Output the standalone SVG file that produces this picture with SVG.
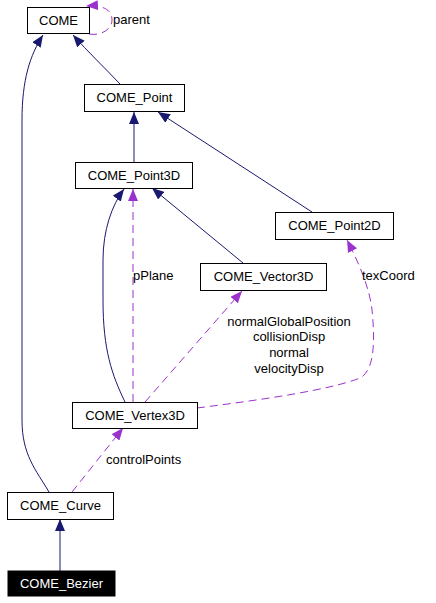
<svg xmlns="http://www.w3.org/2000/svg" width="436" height="603" viewBox="0 0 436 603">
<style>
.box{fill:#fff;stroke:#000;stroke-width:1}
.t{font-family:"Liberation Sans",Arial,sans-serif;font-size:13px;fill:#000;text-anchor:middle}
.l{font-family:"Liberation Sans",Arial,sans-serif;font-size:13px;fill:#000}
.inh{fill:none;stroke:#191970;stroke-width:1;marker-end:url(#an)}
.use{fill:none;stroke:#9a32cd;stroke-width:1;stroke-dasharray:8,5;marker-end:url(#ap)}
</style>
<defs>
<marker id="an" markerWidth="12" markerHeight="10" refX="12" refY="5" orient="auto" markerUnits="userSpaceOnUse"><path d="M0,0 L12,5 L0,10 z" fill="#191970"/></marker>
<marker id="ap" markerWidth="12" markerHeight="10" refX="12" refY="5" orient="auto" markerUnits="userSpaceOnUse"><path d="M0,0 L12,5 L0,10 z" fill="#9a32cd"/></marker>
</defs>
<rect width="436" height="603" fill="#fff"/>
<g id="edges">
<path class="inh" d="M120,84 C105,68 88,52 73,35"/>
<path class="inh" d="M49,492 C36,470 22,455 22,420 L22,120 C22,80 30,55 43,35"/>
<path class="use" d="M89,34 C100,36 112,30 112,20 C112,8 100,5 86,6"/>
<path class="inh" d="M134,162 L134,112"/>
<path class="inh" d="M312,212 L158,112"/>
<path class="inh" d="M243,263 L152,188"/>
<path class="inh" d="M125,402 C112,375 103,350 103,300 L103,260 C103,230 112,205 124,189"/>
<path class="use" d="M133,402 L133,189"/>
<path class="use" d="M145,402 L242,291"/>
<path class="use" d="M197,408 C260,400 330,390 360,378 C375,370 375,340 372,310 C370,290 360,265 347,240"/>
<path class="use" d="M72,492 L123,428"/>
<path class="inh" d="M60,571 L60,519"/>
<text class="l" x="113" y="24">parent</text>
<text class="l" x="133" y="280">pPlane</text>
<text class="l" x="362" y="280">texCoord</text>
<text class="t" x="289" y="326">normalGlobalPosition</text>
<text class="t" x="289" y="341">collisionDisp</text>
<text class="t" x="289" y="357">normal</text>
<text class="t" x="289" y="373">velocityDisp</text>
<text class="l" x="106" y="464">controlPoints</text>
</g>
<g id="COME"><rect class="box" x="27.5" y="7.5" width="62" height="26"/><text class="t" x="58.5" y="25">COME</text></g>
<g id="COME_Point"><rect class="box" x="84.5" y="84.5" width="100" height="27"/><text class="t" x="134.5" y="102">COME_Point</text></g>
<g id="COME_Point3D"><rect class="box" x="75.5" y="162.5" width="117" height="26"/><text class="t" x="134" y="180">COME_Point3D</text></g>
<g id="COME_Point2D"><rect class="box" x="275.5" y="212.5" width="118" height="27"/><text class="t" x="334.5" y="230">COME_Point2D</text></g>
<g id="COME_Vector3D"><rect class="box" x="200.5" y="263.5" width="126" height="27"/><text class="t" x="263.5" y="281">COME_Vector3D</text></g>
<g id="COME_Vertex3D"><rect class="box" x="72.5" y="402.5" width="125" height="26"/><text class="t" x="135" y="420">COME_Vertex3D</text></g>
<g id="COME_Curve"><rect class="box" x="7.5" y="492.5" width="106" height="27"/><text class="t" x="60.5" y="510">COME_Curve</text></g>
<g id="COME_Bezier"><rect x="8" y="571" width="107" height="25" fill="#000" stroke="#000"/><text class="t" x="61.5" y="588" style="fill:#fff">COME_Bezier</text></g>
</svg>
